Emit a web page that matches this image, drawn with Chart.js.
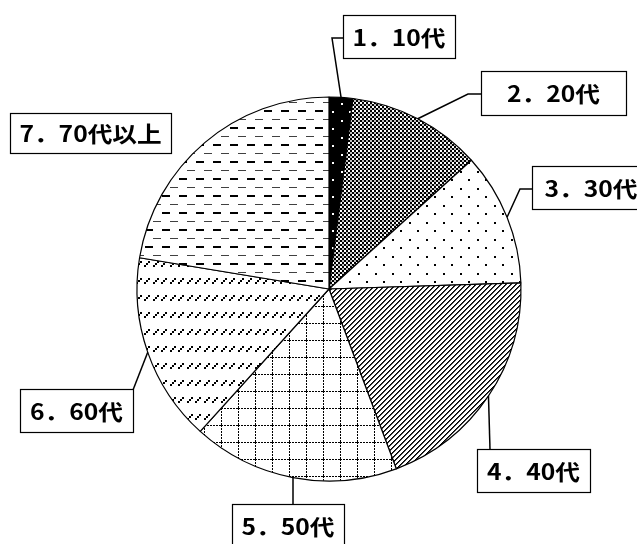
<!DOCTYPE html>
<html lang="ja">
<head>
<meta charset="utf-8">
<script src="https://cdn.jsdelivr.net/npm/chart.js@4"></script>
<style>
  html, body { margin: 0; padding: 0; background: #fff; }
  #wrap { width: 637px; height: 544px; position: relative; }
</style>
</head>
<body>
<div id="wrap"><canvas id="pie"></canvas></div>
<script>
// 年代別の構成比(%)
const categories = ['1．10代', '2．20代', '3．30代', '4．40代', '5．50代', '6．60代', '7．70代以上'];
const shares = [2.0, 11.3, 11.2, 19.8, 17.4, 15.9, 22.4];

// ラベル枠の位置(レイアウトのみ)
const labelBoxes = [
    { x: 343, y: 15, w: 112, h: 43, elbow: [332, 38], attach: [343, 38] },
    { x: 481, y: 71, w: 145, h: 44, elbow: [468, 94], attach: [481, 94] },
    { x: 532, y: 166, w: 118, h: 43, elbow: [520, 189], attach: [532, 189] },
    { x: 477, y: 449, w: 113, h: 43, elbow: null, attach: [490, 449] },
    { x: 232, y: 504, w: 112, h: 44, elbow: null, attach: [293, 504] },
    { x: 20, y: 389, w: 113, h: 43, elbow: null, attach: [133, 390] },
    { x: 10, y: 113, w: 161, h: 40, elbow: null, attach: null }
];

// 塗りパターンを作る
function makePattern(size, draw) {
    const c = document.createElement('canvas');
    c.width = size;
    c.height = size;
    const g = c.getContext('2d');
    g.fillStyle = '#fff';
    g.fillRect(0, 0, size, size);
    g.fillStyle = '#000';
    draw(g, size);
    return g.createPattern(c, 'repeat');
}

const patterns = [
    // 黒地に白点
    makePattern(17, function(g, s) {
        g.fillRect(0, 0, s, s);
        g.fillStyle = '#fff';
        g.fillRect(1, 1, 2, 2);
        g.fillRect(9, 9, 2, 2);
    }),
    // 細かい市松
    makePattern(4, function(g) {
        g.fillRect(0, 0, 2, 2);
        g.fillRect(2, 2, 2, 2);
        g.fillStyle = 'rgba(0,0,0,0.25)';
        g.fillRect(2, 0, 2, 2);
    }),
    // まばらな点
    makePattern(17, function(g) {
        g.fillRect(1, 1, 2, 2);
        g.fillRect(9, 9, 2, 2);
    }),
    // 斜線
    makePattern(5, function(g) {
        for (let i = 0; i < 5; i++) {
            g.fillRect(i, 4 - i, 1, 1);
        }
        g.fillStyle = 'rgba(0,0,0,0.75)';
        for (let i = 0; i < 5; i++) {
            g.fillRect((i + 1) % 5, 4 - i, 1, 1);
        }
    }),
    // 点線の格子
    makePattern(17, function(g) {
        for (let i = 0; i < 17; i += 3) {
            g.fillRect(0, i, 1, 2);
            g.fillRect(i, 0, 2, 1);
        }
    }),
    // 斜めの短い破線
    makePattern(17, function(g) {
        [0, 8].forEach(function(x0) {
            g.fillRect(x0, 10, 2, 2);
            g.fillRect(x0 + 2, 8, 2, 2);
            g.fillRect(x0 + 4, 6, 2, 2);
        });
    }),
    // 横の破線
    makePattern(17, function(g) {
        g.fillStyle = 'rgba(0,0,0,0.75)';
        g.fillRect(0, 0, 8, 1);
        g.fillStyle = '#000';
        g.fillRect(9, 8, 8, 2);
    })
];

// ラベル枠と引出線を描くプラグイン
const boxLabels = {
    id: 'boxLabels',
    afterDraw(chart) {
        const ctx = chart.ctx;
        const arcs = chart.getDatasetMeta(0).data;
        ctx.save();
        ctx.strokeStyle = '#000';
        arcs.forEach(function(arc, i) {
            const box = labelBoxes[i];
            const p = arc.getProps(['x', 'y', 'startAngle', 'endAngle', 'outerRadius'], true);
            const mid = (p.startAngle + p.endAngle) / 2;
            if (box.attach) {
                const ex = p.x + Math.cos(mid) * p.outerRadius;
                const ey = p.y + Math.sin(mid) * p.outerRadius;
                ctx.lineWidth = 1.5;
                ctx.beginPath();
                ctx.moveTo(ex, ey);
                if (box.elbow) ctx.lineTo(box.elbow[0], box.elbow[1]);
                ctx.lineTo(box.attach[0], box.attach[1]);
                ctx.stroke();
            }
            ctx.fillStyle = '#fff';
            ctx.fillRect(box.x, box.y, box.w, box.h);
            ctx.lineWidth = 1.2;
            ctx.strokeRect(box.x + 0.5, box.y + 0.5, box.w, box.h);
            ctx.save();
            ctx.translate(box.x + box.w / 2, box.y + box.h / 2 + 1);
            ctx.scale(1.12, 1);
            ctx.fillStyle = '#000';
            ctx.font = 'bold 22px "Noto Sans CJK JP"';
            ctx.textAlign = 'center';
            ctx.textBaseline = 'middle';
            ctx.fillText(chart.data.labels[i], 0, 0);
            ctx.restore();
        });
        ctx.restore();
    }
};

document.addEventListener('DOMContentLoaded', function() {
    const ctx = document.getElementById('pie').getContext('2d');
    window.pieChart = new Chart(ctx, {
        type: 'pie',
        data: {
            labels: categories,
            datasets: [{
                data: shares,
                backgroundColor: patterns,
                borderColor: '#000',
                borderWidth: 1.2
            }]
        },
        options: {
            responsive: true,
            maintainAspectRatio: false,
            animation: false,
            radius: 192,
            layout: { padding: { left: 21, right: 0, top: 34, bottom: 0 } },
            plugins: {
                legend: { display: false },
                tooltip: { enabled: false }
            }
        },
        plugins: [boxLabels]
    });
});
</script>
</body>
</html>
